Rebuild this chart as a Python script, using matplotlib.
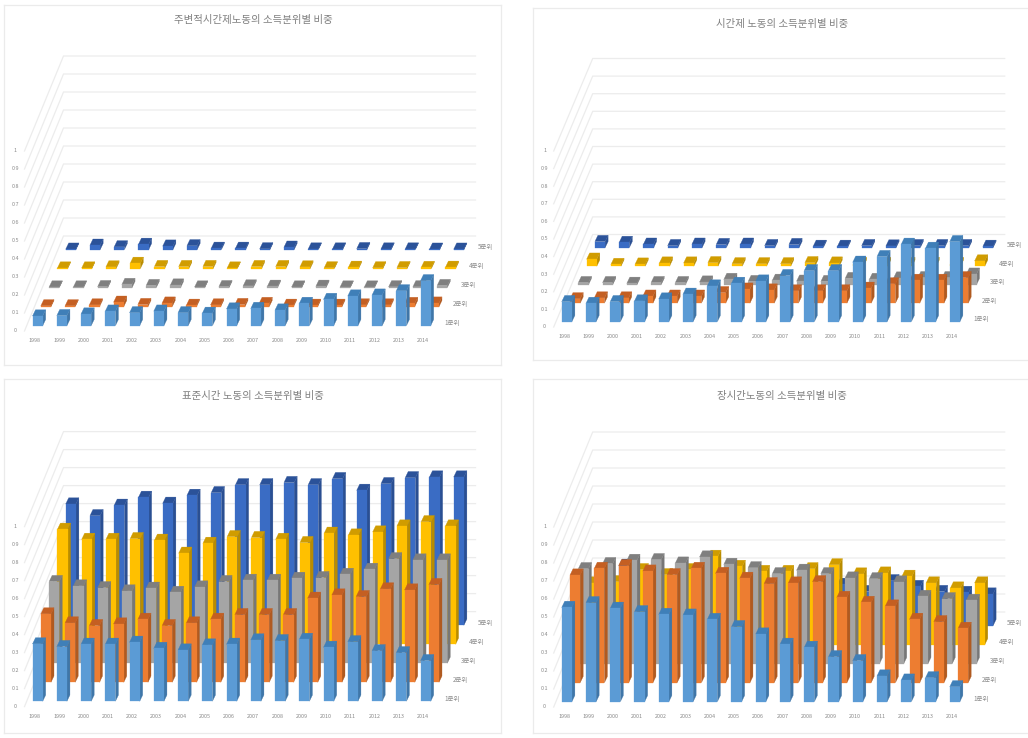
import matplotlib
matplotlib.use("Agg")
import matplotlib.pyplot as plt

plt.rcParams['font.family'] = ['Noto Sans CJK KR', 'DejaVu Sans']

YEARS = list(range(1998, 2015))
QUINTILES = ["1분위", "2분위", "3분위", "4분위", "5분위"]
TICKS = [0, 0.1, 0.2, 0.3, 0.4, 0.5, 0.6, 0.7, 0.8, 0.9, 1]

# 주변적 시간제
marginal_q1 = [.054, .056, .065, .081, .072, .081, .072, .069, .093, .096, .087, .124, .146, .165, .170, .194, .250]
marginal_q2 = [.005, .005, .010, .025, .012, .020, .008, .010, .012, .018, .008, .008, .008, .010, .010, .018, .020]
marginal_q3 = [.004, .004, .006, .018, .012, .015, .004, .006, .010, .008, .004, .008, .004, .004, .005, .005, .012]
marginal_q4 = [.004, .004, .010, .030, .012, .012, .012, .004, .012, .012, .010, .005, .008, .005, .006, .007, .008]
marginal_q5 = [.003, .025, .016, .030, .020, .022, .008, .008, .005, .014, .004, .004, .006, .004, .004, .003, .003]

# 시간제
parttime_q1 = [.114, .104, .114, .118, .129, .156, .203, .218, .231, .262, .290, .290, .338, .370, .440, .417, .455]
parttime_q2 = [.025, .030, .030, .040, .040, .040, .060, .080, .075, .070, .070, .070, .085, .110, .130, .130, .145]
parttime_q3 = [.012, .012, .008, .012, .012, .015, .030, .018, .025, .020, .018, .035, .030, .038, .040, .040, .060]
parttime_q4 = [.040, .010, .012, .018, .018, .020, .014, .014, .014, .020, .018, .015, .015, .015, .015, .015, .030]
parttime_q5 = [.035, .030, .020, .012, .020, .018, .020, .012, .018, .008, .008, .012, .010, .012, .012, .012, .008]

# 표준시간
standard_q1 = [.319, .304, .317, .317, .328, .294, .285, .313, .317, .341, .337, .344, .300, .331, .281, .270, .226]
standard_q2 = [.380, .330, .315, .324, .350, .315, .330, .350, .376, .376, .376, .467, .485, .476, .519, .513, .543]
standard_q3 = [.454, .430, .420, .402, .417, .394, .424, .454, .461, .461, .472, .476, .494, .522, .581, .574, .574]
standard_q4 = [.639, .583, .583, .587, .578, .506, .561, .598, .593, .583, .565, .617, .607, .624, .657, .681, .657]
standard_q5 = [.674, .609, .667, .711, .678, .722, .737, .781, .781, .793, .781, .815, .750, .787, .820, .824, .824]

# 장시간
long_q1 = [.524, .550, .519, .500, .485, .481, .457, .417, .376, .319, .302, .250, .228, .143, .120, .133, .083]
long_q2 = [.598, .635, .650, .620, .600, .635, .607, .580, .550, .554, .561, .474, .446, .426, .352, .339, .302]
long_q3 = [.528, .556, .574, .578, .559, .593, .552, .533, .500, .519, .500, .476, .472, .454, .374, .361, .352]
long_q4 = [.343, .350, .417, .389, .417, .491, .435, .407, .407, .422, .444, .393, .398, .380, .343, .315, .343]
long_q5 = [.288, .336, .297, .247, .282, .238, .235, .199, .196, .185, .230, .190, .250, .218, .190, .185, .176]

# (front, side, top) for each quintile
COLORS = [
    ("#5b9bd5", "#3f76a8", "#3f7fb8"),
    ("#ed7d31", "#b05a20", "#c45f22"),
    ("#a5a5a5", "#777777", "#7f7f7f"),
    ("#ffc000", "#b98c00", "#d09c00"),
    ("#3a6cc4", "#2a4f92", "#2b5299"),
]
GRID = "#ececec"
TEXT = "#8a8a8a"
FRAME = "#ebebeb"

W = 1028
H = 738
BAR_W = 10.2
DEPTH_X = 3.0
DEPTH_Y = 6.2
STEP_X = 24.25
ROW_X = 8.3


def draw_panel(frame, title, title_xy, series, x0, base, unit, row_y):
    """Draw one pseudo-3D clustered column panel, in pixel units."""
    left, top, right, bottom = frame
    ax = plt.gcf().add_axes([left / W, 1 - bottom / H,
                             (right - left) / W, (bottom - top) / H])
    ax.set_xlim(left, right)
    ax.set_ylim(bottom, top)
    ax.set_xticks([])
    ax.set_yticks([])
    for spine in ax.spines.values():
        spine.set_color(FRAME)
        spine.set_linewidth(0.9)

    ax.text(title_xy[0], title_xy[1], title, ha="center", va="center",
            fontsize=7.5, color="#808080")

    # walls
    zero = base + 5.3
    for v in TICKS:
        fy = zero - unit * v
        by = fy - row_y * 5
        ax.plot([x0 - 8, x0 + 31, x0 + 443], [fy, by, by], color=GRID, lw=0.9, zorder=1)
        ax.text(x0 - 17, fy, str(v), ha="center", va="center", fontsize=3.9, color=TEXT)

    # back row first so the front rows cover it
    for r in range(4, -1, -1):
        front, side, cap = COLORS[r]
        y0 = base - row_y * r
        for i, value in enumerate(series[r]):
            x = x0 + STEP_X * i + ROW_X * r
            y1 = y0 - unit * value
            x2 = x + BAR_W
            x3 = x2 + DEPTH_X
            ax.fill([x2, x3, x3, x2], [y0, y0 - DEPTH_Y, y1 - DEPTH_Y, y1],
                    color=side, lw=0.2, zorder=2)
            ax.fill([x, x2, x3, x + DEPTH_X], [y1, y1, y1 - DEPTH_Y, y1 - DEPTH_Y],
                    color=cap, lw=0.2, zorder=2)
            ax.fill([x, x2, x2, x], [y0, y0, y1, y1], color=front, lw=0.2, zorder=2)
        ax.text(x0 + 419.5 + ROW_X * r, y0 - 2.3, QUINTILES[r], ha="center", va="center",
                fontsize=4.6, color=TEXT)

    for i, year in enumerate(YEARS):
        ax.text(x0 + 2.5 + STEP_X * i, base + 14.7, str(year), ha="center", va="center",
                fontsize=3.9, color=TEXT)


def main():
    plt.figure(figsize=(W / 100, H / 100), dpi=100, facecolor="white")
    draw_panel((4, 4.5, 501, 364.5), "주변적시간제노동의 소득분위별 비중", (253, 20),
               [marginal_q1, marginal_q2, marginal_q3, marginal_q4, marginal_q5],
               32.5, 325.7, 180, 19)
    draw_panel((533, 8, 1032, 360), "시간제 노동의 소득분위별 비중", (782, 24),
               [parttime_q1, parttime_q2, parttime_q3, parttime_q4, parttime_q5],
               561.7, 321.7, 176, 18.5)
    draw_panel((4, 379, 501, 733), "표준시간 노동의 소득분위별 비중", (253, 396),
               [standard_q1, standard_q2, standard_q3, standard_q4, standard_q5],
               32.5, 701.3, 180, 19)
    draw_panel((533, 379, 1032, 733), "장시간노동의 소득분위별 비중", (782, 396),
               [long_q1, long_q2, long_q3, long_q4, long_q5],
               561.7, 701.7, 180, 19)
    plt.savefig("out.png", dpi=100)


if __name__ == "__main__":
    main()
